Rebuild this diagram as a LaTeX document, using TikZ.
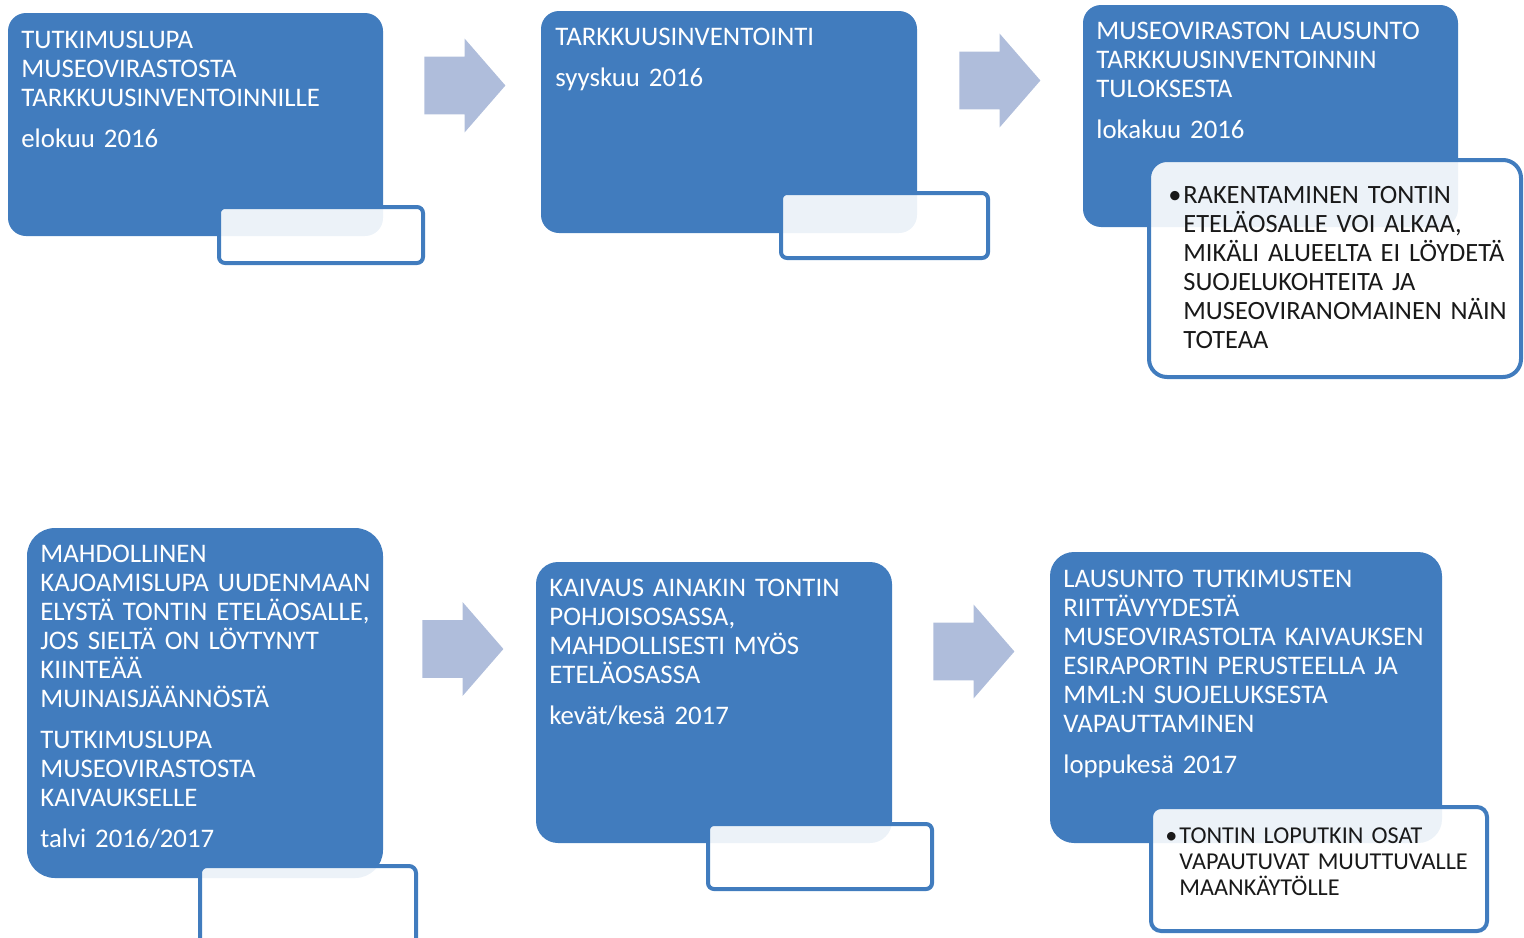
\documentclass[tikz,border=0pt]{standalone}
\usepackage{fontspec}
\setmainfont{Carlito}
\usetikzlibrary{%
  fit,
  positioning,
  shapes.arrows
}
\definecolor{stageblue}{RGB}{65,124,190}
\definecolor{flowgrey}{RGB}{175,189,219}
\definecolor{notegrey}{RGB}{25,25,25}

\begin{document}
\begin{tikzpicture}[x=0.5pt, y=-0.5pt,
    stage/.style     = {fill=stageblue, inner sep=0pt, outer sep=0pt},
    note/.style      = {draw=stageblue, line width=2pt, fill=white, fill opacity=0.9, inner sep=0pt, outer sep=0pt},
    flow/.style      = {single arrow, fill=flowgrey, inner xsep=0pt, inner ysep=14.25pt, minimum height=40.5pt,
                        single arrow head extend=9pt, single arrow tip angle=98, anchor=tail},
    stagetext/.style = {anchor=base west, text=white, align=left, text width=190pt, inner sep=0pt,
                        font=\fontsize{13.4}{14.5}\selectfont},
    notetext/.style  = {stagetext, text=notegrey}]
    \useasboundingbox (0,0) rectangle (1524,937);
    \clip (0,0) rectangle (1524,937);

    \node[stage, rounded corners=9pt,  fit={(8,13) (383,236)}]     (boxA) {};
    \node[stage, rounded corners=9pt,  fit={(541,11) (917,233)}]   (boxB) {};
    \node[stage, rounded corners=9pt,  fit={(1083,5) (1458,227)}]  (boxC) {};
    \node[stage, rounded corners=14pt, fit={(27,528) (383,878)}]   (boxD) {};
    \node[stage, rounded corners=11pt, fit={(536,562) (892,843)}]  (boxE) {};
    \node[stage, rounded corners=12pt, fit={(1050,552) (1442,843)}] (boxF) {};

    \node[note, rounded corners=3pt, fit={(219,207) (423,263)}]    (noteA) {};
    \node[note, rounded corners=3pt, fit={(781,193) (988,258)}]    (noteB) {};
    \node[note, rounded corners=9pt, fit={(1149,160) (1521,377)}]  (noteC) {};
    \node[note, rounded corners=3.5pt, fit={(200,866) (416,960)}]  (noteD) {};
    \node[note, rounded corners=3pt, fit={(708,824) (932,889)}]    (noteE) {};
    \node[note, rounded corners=5pt, fit={(1151,807) (1487,931)}]  (noteF) {};

    \node[flow] (flowAB) at (424,85.5) {};
    \node[flow] (flowBC) at (959,80.5) {};
    \node[flow] (flowDE) at (422,649) {};
    \node[flow] (flowEF) at (933,651.5) {};

    \node[stagetext] (textA) at ([shift={(13,35.3)}]boxA.north west)
      {TUTKIMUSLUPA\\ MUSEOVIRASTOSTA\\ TARKKUUSINVENTOINNILLE\\[6pt] elokuu 2016};
    \node[stagetext] (textB) at ([shift={(14,34.5)}]boxB.north west)
      {TARKKUUSINVENTOINTI\\[6pt] syyskuu 2016};
    \node[stagetext] (textC) at ([shift={(13,34.5)}]boxC.north west)
      {MUSEOVIRASTON LAUSUNTO\\ TARKKUUSINVENTOINNIN\\ TULOKSESTA\\[6pt] lokakuu 2016};
    \node[stagetext] (textD) at ([shift={(13,34.5)}]boxD.north west)
      {MAHDOLLINEN\\ KAJOAMISLUPA UUDENMAAN\\ ELYSTÄ TONTIN ETELÄOSALLE,\\ JOS SIELTÄ ON LÖYTYNYT\\ KIINTEÄÄ\\
       MUINAISJÄÄNNÖSTÄ\\[6pt] TUTKIMUSLUPA\\ MUSEOVIRASTOSTA\\ KAIVAUKSELLE\\[6pt] talvi 2016/2017};
    \node[stagetext] (textE) at ([shift={(13,34.5)}]boxE.north west)
      {KAIVAUS AINAKIN TONTIN\\ POHJOISOSASSA,\\ MAHDOLLISESTI MYÖS\\ ETELÄOSASSA\\[6pt] kevät/kesä 2017};
    \node[stagetext] (textF) at ([shift={(13,35.5)}]boxF.north west)
      {LAUSUNTO TUTKIMUSTEN\\ RIITTÄVYYDESTÄ\\ MUSEOVIRASTOLTA KAIVAUKSEN\\ ESIRAPORTIN PERUSTEELLA JA\\
       MML:N SUOJELUKSESTA\\ VAPAUTTAMINEN\\[6pt] loppukesä 2017};

    \node[notetext, font=\fontsize{13.2}{14.5}\selectfont] (textNoteC) at ([shift={(34,43.5)}]noteC.north west)
      {\leavevmode\llap{•\hspace{1pt}}RAKENTAMINEN TONTIN\\ ETELÄOSALLE VOI ALKAA,\\ MIKÄLI ALUEELTA EI LÖYDETÄ\\
       SUOJELUKOHTEITA JA\\ MUSEOVIRANOMAINEN NÄIN\\ TOTEAA};
    \node[notetext, font=\fontsize{12.1}{13}\selectfont] (textNoteF) at ([shift={(28,36.5)}]noteF.north west)
      {\leavevmode\llap{•\hspace{1pt}}TONTIN LOPUTKIN OSAT\\ VAPAUTUVAT MUUTTUVALLE\\ MAANKÄYTÖLLE};
\end{tikzpicture}
\end{document}
